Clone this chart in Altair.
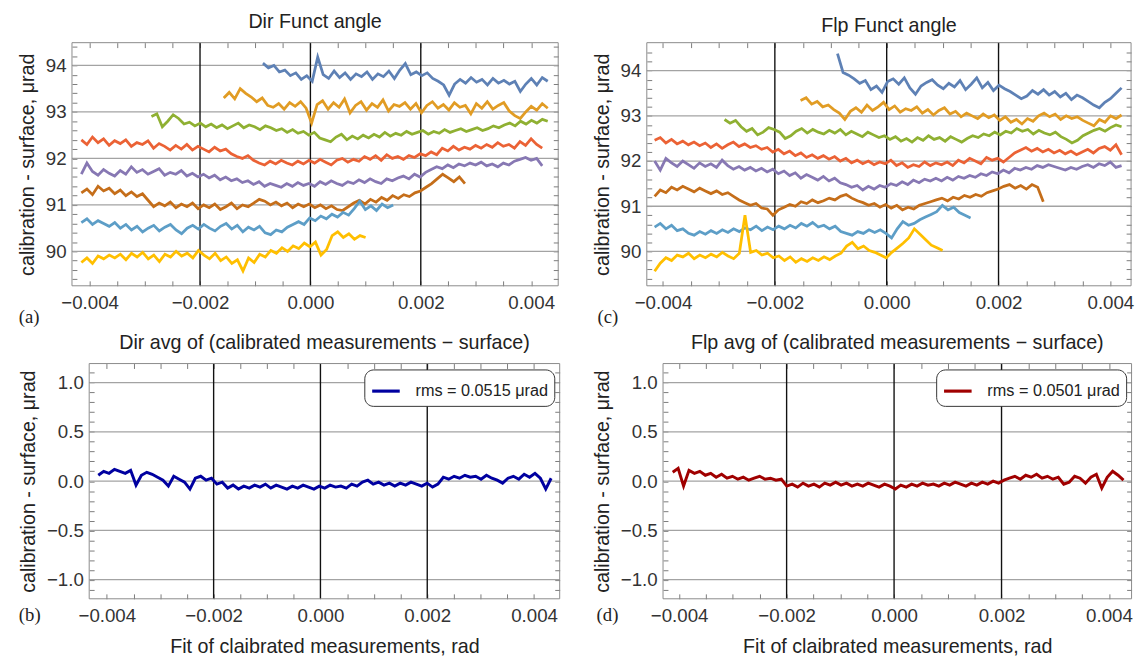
import altair as alt
import numpy as np
import pandas as pd

FONT = "Liberation Sans"
SERIES_NAMES = ["s1", "s2", "s3", "s4", "s5", "s6", "s7", "s8"]
SERIES_COLORS = ["#5E81B5", "#E19C24", "#8FB032", "#EB6235", "#8778B3", "#C56E1A", "#5D9EC7", "#FFBF00"]

# ---------------- (a) Dir Funct angle ----------------
dir_x_start = [-0.00086, -0.00157, -0.00288, -0.00415, -0.00415, -0.00415, -0.00415, -0.00415]
dir_x_end = [0.0043, 0.0043, 0.0043, 0.0042, 0.0042, 0.0028, 0.0015, 0.0010]
dir_blue = [94.05, 93.95, 94.00, 93.86, 93.90, 93.78, 93.84, 93.70, 93.78, 93.66,
            94.18, 93.80, 93.72, 93.88, 93.74, 93.84, 93.70, 93.82, 93.76, 93.86,
            93.70, 93.82, 93.76, 93.88, 93.72, 93.90, 94.04, 93.80, 93.86, 93.78,
            93.84, 93.72, 93.66, 93.58, 93.36, 93.60, 93.70, 93.62, 93.74, 93.64,
            93.70, 93.58, 93.72, 93.62, 93.68, 93.60, 93.66, 93.44, 93.60, 93.72,
            93.58, 93.74, 93.66]
dir_orange = [93.30, 93.42, 93.28, 93.50, 93.40, 93.32, 93.22, 93.30, 93.14, 93.10,
              93.18, 93.06, 93.20, 93.12, 93.22, 93.08, 92.76, 93.16, 93.24, 93.06,
              93.20, 93.10, 93.28, 92.98, 93.14, 93.22, 93.04, 93.18, 93.10, 93.26,
              93.02, 93.16, 93.12, 93.20, 93.06, 93.18, 92.98, 93.14, 93.22, 93.08,
              93.16, 93.04, 93.20, 93.10, 93.14, 92.96, 93.18, 93.08, 93.22, 93.06,
              93.14, 93.20, 93.02, 92.92, 92.86, 93.00, 93.12, 93.04, 93.18, 93.08]
dir_green = [92.90, 92.96, 92.68, 92.80, 92.94, 92.86, 92.74, 92.78, 92.70, 92.76,
             92.68, 92.74, 92.66, 92.72, 92.64, 92.70, 92.76, 92.66, 92.72, 92.68,
             92.62, 92.70, 92.66, 92.60, 92.64, 92.56, 92.62, 92.54, 92.58, 92.50,
             92.56, 92.44, 92.40, 92.36, 92.46, 92.52, 92.40, 92.48, 92.42, 92.50,
             92.44, 92.52, 92.46, 92.56, 92.48, 92.54, 92.50, 92.58, 92.52, 92.56,
             92.60, 92.52, 92.58, 92.54, 92.62, 92.56, 92.60, 92.64, 92.58, 92.62,
             92.66, 92.60, 92.64, 92.70, 92.66, 92.72, 92.76, 92.70, 92.80, 92.74,
             92.82, 92.76, 92.84, 92.80]
dir_red = [92.40, 92.30, 92.46, 92.34, 92.42, 92.28, 92.38, 92.32, 92.40, 92.26,
           92.34, 92.30, 92.38, 92.22, 92.32, 92.26, 92.18, 92.28, 92.20, 92.30,
           92.18, 92.26, 92.20, 92.14, 92.24, 92.16, 92.20, 92.10, 92.04, 92.00,
           92.06, 91.96, 91.90, 91.86, 91.94, 91.88, 91.96, 91.90, 91.86, 91.94,
           91.88, 91.96, 91.90, 91.98, 91.92, 91.86, 91.96, 92.00, 91.92, 91.98,
           91.94, 92.04, 91.98, 92.06, 91.96, 92.08, 92.00, 92.04, 91.98, 92.06,
           92.02, 92.10, 92.06, 92.14, 92.08, 92.22, 92.16, 92.26, 92.18, 92.24,
           92.20, 92.28, 92.22, 92.30, 92.24, 92.34, 92.26, 92.30, 92.22, 92.36,
           92.28, 92.42, 92.30, 92.22]
dir_purple = [91.66, 91.90, 91.72, 91.64, 91.76, 91.68, 91.62, 91.74, 91.66, 91.82,
              91.70, 91.76, 91.66, 91.72, 91.78, 91.64, 91.70, 91.66, 91.74, 91.62,
              91.68, 91.60, 91.66, 91.58, 91.64, 91.54, 91.60, 91.52, 91.56, 91.48,
              91.52, 91.44, 91.50, 91.40, 91.46, 91.42, 91.38, 91.46, 91.40, 91.48,
              91.42, 91.46, 91.40, 91.50, 91.44, 91.52, 91.46, 91.42, 91.50, 91.46,
              91.54, 91.48, 91.56, 91.50, 91.46, 91.56, 91.52, 91.58, 91.62, 91.56,
              91.66, 91.60, 91.70, 91.76, 91.82, 91.78, 91.86, 91.80, 91.88, 91.84,
              91.90, 91.86, 91.92, 91.84, 91.88, 91.82, 91.90, 91.86, 91.94, 91.98,
              92.02, 91.96, 92.00, 91.84]
dir_brown = [91.26, 91.34, 91.22, 91.40, 91.30, 91.36, 91.24, 91.32, 91.20, 91.28,
             91.18, 91.24, 91.10, 90.96, 91.04, 90.98, 91.06, 90.94, 91.02, 90.96,
             91.04, 90.92, 91.00, 90.94, 91.02, 90.90, 90.96, 91.04, 90.92, 91.00,
             90.96, 91.04, 91.12, 91.08, 91.00, 91.06, 90.98, 91.04, 90.94, 91.02,
             90.96, 91.02, 90.94, 91.00, 90.92, 90.98, 90.90, 90.88, 90.96, 91.04,
             91.10, 91.02, 91.12, 91.06, 91.16, 91.10, 91.20, 91.14, 91.22, 91.18,
             91.26, 91.30, 91.38, 91.46, 91.56, 91.66, 91.58, 91.50, 91.60, 91.46]
dir_ltblue = [90.62, 90.70, 90.58, 90.66, 90.60, 90.54, 90.62, 90.50, 90.58, 90.46,
              90.54, 90.42, 90.50, 90.56, 90.44, 90.52, 90.58, 90.46, 90.38, 90.50,
              90.56, 90.48, 90.58, 90.50, 90.44, 90.54, 90.60, 90.48, 90.56, 90.42,
              90.52, 90.46, 90.54, 90.40, 90.36, 90.46, 90.42, 90.52, 90.58, 90.64,
              90.58, 90.72, 90.66, 90.76, 90.70, 90.80, 90.74, 90.84, 90.78, 90.92,
              91.08, 90.90, 90.98, 90.88, 91.02, 90.94, 91.00]
dir_yellow = [89.76, 89.86, 89.74, 89.90, 89.84, 89.92, 89.86, 89.94, 89.82, 89.96,
              89.88, 89.98, 89.84, 89.92, 89.78, 89.94, 89.88, 90.00, 89.90, 89.96,
              89.86, 90.02, 89.92, 89.84, 89.96, 89.80, 89.88, 89.74, 89.82, 89.58,
              89.86, 89.76, 89.94, 89.88, 90.02, 89.96, 90.08, 90.00, 90.12, 90.06,
              90.18, 90.10, 90.20, 89.92, 90.04, 90.34, 90.42, 90.30, 90.38, 90.26,
              90.34, 90.30]

# ---------------- (c) Flp Funct angle ----------------
flp_x_start = [-0.00088, -0.00154, -0.0029, -0.00415, -0.00415, -0.00415, -0.00415, -0.00415]
flp_x_end = [0.0042, 0.0042, 0.0042, 0.0042, 0.0042, 0.0028, 0.0015, 0.0010]
flp_blue = [94.38, 93.96, 93.90, 93.82, 93.72, 93.78, 93.58, 93.66, 93.52, 93.76,
            93.82, 93.70, 93.84, 93.62, 93.48, 93.66, 93.74, 93.80, 93.68, 93.60,
            93.72, 93.64, 93.78, 93.58, 93.70, 93.84, 93.62, 93.74, 93.56, 93.68,
            93.60, 93.54, 93.46, 93.38, 93.44, 93.56, 93.48, 93.58, 93.46, 93.54,
            93.42, 93.50, 93.36, 93.46, 93.40, 93.32, 93.24, 93.18, 93.30, 93.38,
            93.50, 93.62]
flp_orange = [93.34, 93.40, 93.26, 93.32, 93.20, 93.24, 93.14, 93.06, 92.92, 93.10,
              93.18, 93.08, 93.24, 93.12, 93.20, 93.30, 93.14, 93.22, 93.08, 93.16,
              93.12, 93.20, 93.06, 93.14, 93.02, 93.12, 93.18, 93.04, 93.10, 92.98,
              93.06, 93.00, 92.94, 93.04, 92.96, 93.02, 92.90, 92.98, 92.86, 92.92,
              92.82, 92.94, 92.88, 93.00, 93.06, 92.98, 93.04, 92.92, 93.00, 92.94,
              92.98, 92.90, 92.84, 92.78, 92.92, 92.86, 93.00, 92.94, 93.02]
flp_green = [92.92, 92.84, 92.90, 92.76, 92.66, 92.72, 92.58, 92.64, 92.74, 92.70,
             92.64, 92.50, 92.56, 92.66, 92.72, 92.62, 92.70, 92.64, 92.60, 92.68,
             92.62, 92.70, 92.58, 92.66, 92.60, 92.54, 92.64, 92.58, 92.52, 92.56,
             92.48, 92.54, 92.44, 92.50, 92.42, 92.52, 92.46, 92.56, 92.48, 92.52,
             92.44, 92.54, 92.48, 92.42, 92.50, 92.56, 92.52, 92.60, 92.56, 92.64,
             92.58, 92.66, 92.62, 92.72, 92.66, 92.70, 92.60, 92.68, 92.62, 92.58,
             92.64, 92.54, 92.48, 92.40, 92.46, 92.56, 92.62, 92.68, 92.72, 92.66,
             92.74, 92.80, 92.76]
flp_red = [92.46, 92.52, 92.40, 92.48, 92.38, 92.44, 92.36, 92.42, 92.34, 92.40,
           92.30, 92.38, 92.28, 92.36, 92.42, 92.32, 92.38, 92.30, 92.34, 92.26,
           92.30, 92.20, 92.26, 92.16, 92.22, 92.12, 92.18, 92.08, 92.14, 92.06,
           92.12, 92.04, 92.10, 92.00, 92.06, 91.96, 92.02, 91.94, 92.00, 91.92,
           91.98, 91.94, 92.02, 91.90, 91.96, 91.86, 91.92, 91.88, 91.98, 91.90,
           91.96, 91.92, 91.98, 91.90, 92.02, 91.96, 92.06, 92.00, 91.94, 92.08,
           92.02, 92.06, 91.98, 92.08, 92.18, 92.24, 92.30, 92.22, 92.28, 92.20,
           92.26, 92.18, 92.24, 92.16, 92.22, 92.14, 92.20, 92.26, 92.18, 92.28,
           92.32, 92.24, 92.36, 92.14]
flp_purple = [92.00, 91.80, 92.06, 91.96, 91.88, 92.00, 91.92, 91.84, 91.96, 91.88,
              91.94, 91.86, 92.02, 91.90, 91.82, 91.88, 91.80, 91.86, 91.78, 91.84,
              91.76, 91.82, 91.72, 91.78, 91.68, 91.74, 91.62, 91.70, 91.64, 91.58,
              91.66, 91.56, 91.62, 91.52, 91.48, 91.42, 91.46, 91.36, 91.44, 91.38,
              91.46, 91.42, 91.50, 91.46, 91.54, 91.48, 91.58, 91.52, 91.60, 91.56,
              91.62, 91.56, 91.64, 91.58, 91.66, 91.62, 91.68, 91.64, 91.72, 91.68,
              91.76, 91.72, 91.80, 91.74, 91.84, 91.80, 91.86, 91.82, 91.90, 91.86,
              91.92, 91.88, 91.84, 91.80, 91.86, 91.82, 91.88, 91.92, 91.86, 91.94,
              91.90, 91.98, 91.86, 91.90]
flp_brown = [91.22, 91.36, 91.30, 91.42, 91.36, 91.44, 91.38, 91.32, 91.40, 91.34,
             91.28, 91.34, 91.26, 91.30, 91.22, 91.14, 91.08, 91.02, 91.06, 90.96,
             90.94, 90.80, 90.92, 90.98, 91.04, 91.00, 91.10, 91.06, 91.14, 91.08,
             91.12, 91.18, 91.14, 91.22, 91.26, 91.18, 91.12, 91.08, 91.02, 91.06,
             90.98, 91.04, 90.96, 91.02, 90.92, 90.98, 90.94, 91.02, 91.06, 91.10,
             91.14, 91.18, 91.12, 91.20, 91.16, 91.24, 91.20, 91.26, 91.22, 91.30,
             91.34, 91.38, 91.44, 91.48, 91.40, 91.46, 91.38, 91.48, 91.42, 91.10]
flp_ltblue = [90.54, 90.62, 90.50, 90.58, 90.46, 90.50, 90.40, 90.36, 90.44, 90.38,
              90.46, 90.40, 90.48, 90.42, 90.50, 90.44, 90.52, 90.48, 90.56, 90.46,
              90.54, 90.48, 90.56, 90.50, 90.58, 90.52, 90.62, 90.56, 90.64, 90.54,
              90.58, 90.50, 90.56, 90.44, 90.40, 90.36, 90.44, 90.40, 90.48, 90.42,
              90.48, 90.40, 90.30, 90.50, 90.66, 90.58, 90.62, 90.70, 90.76, 90.82,
              90.88, 91.02, 90.92, 90.98, 90.86, 90.80, 90.74]
flp_yellow = [89.56, 89.74, 89.86, 89.80, 89.92, 89.88, 89.96, 89.84, 89.92, 89.86,
              89.94, 89.88, 89.98, 89.90, 89.84, 89.96, 90.80, 89.98, 90.02, 89.92,
              89.96, 89.86, 89.90, 89.80, 89.88, 89.76, 89.84, 89.78, 89.86, 89.80,
              89.88, 89.82, 89.90, 89.96, 90.12, 90.20, 90.06, 90.12, 90.02, 89.98,
              89.92, 89.86, 89.98, 90.08, 90.18, 90.30, 90.50, 90.38, 90.26, 90.14,
              90.08, 90.02]

# ---------------- (b) Dir avg, (d) Flp avg ----------------
dir_avg_x = [-0.00416, 0.00432]
dir_avg = [0.06, 0.10, 0.08, 0.12, 0.10, 0.08, 0.11, -0.04, 0.06, 0.09,
           0.07, 0.04, 0.01, -0.05, 0.05, 0.02, -0.01, -0.08, 0.03, 0.05,
           0.01, 0.03, -0.03, -0.01, -0.07, -0.04, -0.08, -0.05, -0.07, -0.04,
           -0.06, -0.03, -0.07, -0.04, -0.06, -0.08, -0.05, -0.07, -0.04, -0.06,
           -0.08, -0.05, -0.07, -0.04, -0.06, -0.05, -0.07, -0.03, -0.05, -0.01,
           0.01, -0.03, -0.01, -0.04, -0.02, -0.05, -0.02, -0.04, -0.01, -0.03,
           -0.05, -0.02, -0.06, -0.03, 0.04, 0.02, 0.05, 0.03, 0.06, 0.04,
           0.05, 0.02, 0.06, 0.03, 0.01, -0.02, 0.03, 0.05, 0.02, 0.07,
           0.04, 0.08, 0.03, -0.08, 0.03]
flp_avg_x = [-0.00412, 0.00427]
flp_avg = [0.09, 0.13, -0.05, 0.11, 0.08, 0.10, 0.06, 0.08, 0.04, 0.07,
           0.03, 0.05, 0.02, 0.04, 0.01, 0.03, 0.05, 0.02, 0.03, 0.01,
           0.02, -0.05, -0.03, -0.06, -0.02, -0.05, -0.03, -0.06, -0.02, -0.04,
           -0.01, -0.04, -0.02, -0.05, -0.03, -0.05, -0.02, -0.04, -0.06, -0.03,
           -0.05, -0.08, -0.04, -0.06, -0.03, -0.05, -0.02, -0.04, -0.03, -0.05,
           -0.02, -0.04, -0.01, -0.03, -0.05, -0.02, -0.04, -0.01, -0.03, 0.00,
           -0.02, 0.01, 0.03, 0.05, 0.02, 0.06, 0.04, 0.07, 0.03, 0.05,
           0.02, 0.04, -0.03, -0.01, 0.05, 0.03, -0.02, 0.04, 0.07, -0.07,
           0.04, 0.10, 0.06, 0.01]
dir_avg_label = "rms = 0.0515 μrad"
flp_avg_label = "rms = 0.0501 μrad"

# ---------------- ticks / grid ----------------
x_ticks = [-0.004, -0.0035, -0.003, -0.0025, -0.002, -0.0015, -0.001, -0.0005, 0.0,
           0.0005, 0.001, 0.0015, 0.002, 0.0025, 0.003, 0.0035, 0.004]
x_grid = [-0.002, 0.0, 0.002]
y_ticks_top = [89.4, 89.6, 89.8, 90.0, 90.2, 90.4, 90.6, 90.8, 91.0, 91.2, 91.4, 91.6, 91.8,
               92.0, 92.2, 92.4, 92.6, 92.8, 93.0, 93.2, 93.4, 93.6, 93.8, 94.0, 94.2, 94.4]
y_grid_top = [90, 91, 92, 93, 94]
y_ticks_bot = [-1.1, -1.0, -0.9, -0.8, -0.7, -0.6, -0.5, -0.4, -0.3, -0.2, -0.1, 0.0,
               0.1, 0.2, 0.3, 0.4, 0.5, 0.6, 0.7, 0.8, 0.9, 1.0, 1.1]
y_grid_bot = [-1.0, -0.5, 0.0, 0.5, 1.0]

XLAB = "abs(datum.value * 500 - round(datum.value * 500)) < 0.01 ? format(datum.value, '.3f') : ''"
YLAB_TOP = "abs(datum.value - round(datum.value)) < 0.01 ? format(datum.value, '.0f') : ''"
YLAB_BOT = "abs(datum.value * 2 - round(datum.value * 2)) < 0.01 ? format(datum.value, '.1f') : ''"
YTITLE = "calibration - surface, μrad"
XTITLE = "Fit of claibrated measurements, rad"

TICK_FS = 19
TITLE_FS = 20
FRAME = "#8a8a8a"


def series_frame(starts, ends, arrays, names):
    rows = []
    for s, e, vals, n in zip(starts, ends, arrays, names):
        xs = np.linspace(s, e, len(vals))
        for xv, yv in zip(xs, vals):
            rows.append({"x": float(xv), "y": yv, "series": n})
    return pd.DataFrame(rows)


def panel(df, cdomain, crange, legend, frame_x, ydom, w, h, title, yticks, ygrid,
          ylab, letter, ldx, ldy, xtitle, sw, inset=0.0, title_offset=6):
    # inset: blank strip (px) kept left of the framed plot, so that all panels
    # of a column share one origin while their frames start where they should
    px_per_unit = w / (frame_x[1] - frame_x[0])
    view_x = [frame_x[0] - inset / px_per_unit, frame_x[1]]
    vw = w + inset
    xs = alt.Scale(domain=view_x, nice=False, zero=False)
    ys = alt.Scale(domain=ydom, nice=False, zero=False)
    tick_common = dict(tickSize=5, domain=False, grid=False,
                       tickColor="#7a7a7a", tickWidth=1)
    gdf = pd.DataFrame({"g": ygrid, "x0": [frame_x[0]] * len(ygrid),
                        "x1": [frame_x[1]] * len(ygrid)})
    hgrid = alt.Chart(gdf).mark_rule(color="#a3a3a3", strokeWidth=1.3).encode(
        x=alt.X("x0:Q", scale=xs, axis=None), x2="x1:Q",
        y=alt.Y("g:Q", scale=ys,
                axis=alt.Axis(orient="right", values=yticks, labels=False,
                              title=None, offset=-5, **tick_common)))
    vgrid = alt.Chart(pd.DataFrame({"g": x_grid})).mark_rule(
        color="#111111", strokeWidth=1.4).encode(
        x=alt.X("g:Q", scale=xs,
                axis=alt.Axis(orient="top", values=x_ticks, labels=False,
                              title=None, offset=-5, **tick_common)))
    xaxis_kw = dict(orient="bottom", values=x_ticks, labelExpr=XLAB,
                    labelFont=FONT, labelFontSize=TICK_FS, labelColor="#333333",
                    labelPadding=8, labelOverlap=False, labelFlush=False,
                    title=xtitle, titleFont=FONT, titleFontSize=TITLE_FS,
                    titleFontWeight="normal", titleColor="#222222",
                    titlePadding=12, offset=-5, **tick_common)
    if xtitle is not None:
        xaxis_kw["titleX"] = inset + w / 2
        xaxis_kw["titleAlign"] = "center"
    xaxis = alt.Axis(**xaxis_kw)
    yaxis = alt.Axis(orient="left", values=yticks, labelExpr=ylab,
                     labelFont=FONT, labelFontSize=TICK_FS, labelColor="#333333",
                     labelPadding=6, labelOverlap=False, labelFlush=False,
                     title=YTITLE, titleFont=FONT, titleFontSize=TITLE_FS,
                     titleFontWeight="normal", titleColor="#222222",
                     titlePadding=8, offset=-(5 + inset), **tick_common)
    lines = alt.Chart(df).mark_line(strokeWidth=sw, clip=True).encode(
        x=alt.X("x:Q", scale=xs, axis=xaxis),
        y=alt.Y("y:Q", scale=ys, axis=yaxis),
        color=alt.Color("series:N", scale=alt.Scale(domain=cdomain, range=crange),
                        legend=legend),
    )
    fdf = pd.DataFrame({"x0": [frame_x[0]], "x1": [frame_x[1]],
                        "y0": [ydom[0]], "y1": [ydom[1]]})
    frame = alt.Chart(fdf).mark_rect(filled=False, stroke=FRAME, strokeWidth=1).encode(
        x=alt.X("x0:Q", scale=xs, axis=None), x2="x1:Q",
        y=alt.Y("y0:Q", scale=ys, axis=None), y2="y1:Q")
    lab = alt.Chart(pd.DataFrame({"t": [letter]})).mark_text(
        align="left", baseline="middle", font="Liberation Serif", fontSize=19,
        color="#222222").encode(text="t:N", x=alt.value(ldx), y=alt.value(ldy))
    return alt.layer(hgrid, vgrid, lines, frame, lab).properties(
        width=vw, height=h,
        view=alt.ViewBackground(stroke="transparent"),
        title=alt.TitleParams(title, font=FONT, fontSize=TITLE_FS, fontWeight="normal",
                              color="#222222", offset=title_offset, anchor="middle",
                              frame="group", dx=inset / 2))


def avg_legend():
    return alt.Legend(orient="top-right", offset=6, title=None, fillColor="white",
                      strokeColor="#333333", cornerRadius=9, padding=6,
                      symbolType="stroke", symbolSize=784, symbolStrokeWidth=3.2,
                      labelFont=FONT, labelFontSize=16.5, labelColor="#222222",
                      labelOffset=14)


df_dir = series_frame(dir_x_start, dir_x_end,
                      [dir_blue, dir_orange, dir_green, dir_red, dir_purple,
                       dir_brown, dir_ltblue, dir_yellow], SERIES_NAMES)
df_flp = series_frame(flp_x_start, flp_x_end,
                      [flp_blue, flp_orange, flp_green, flp_red, flp_purple,
                       flp_brown, flp_ltblue, flp_yellow], SERIES_NAMES)
df_dir_avg = series_frame([dir_avg_x[0]], [dir_avg_x[1]], [dir_avg], [dir_avg_label])
df_flp_avg = series_frame([flp_avg_x[0]], [flp_avg_x[1]], [flp_avg], [flp_avg_label])

p_a = panel(df_dir, SERIES_NAMES, SERIES_COLORS, None, [-0.00432, 0.00449],
            [89.26, 94.49], 494, 247, "Dir Funct angle", y_ticks_top, y_grid_top,
            YLAB_TOP, "(a)", -54, 279, None, 2.8)
p_c = panel(df_flp, SERIES_NAMES, SERIES_COLORS, None, [-0.00429, 0.00437],
            [89.24, 94.62], 492, 247, "Flp Funct angle", y_ticks_top, y_grid_top,
            YLAB_TOP, "(c)", -50, 279, None, 2.8)
p_b = panel(df_dir_avg, [dir_avg_label], ["#0000A0"], avg_legend(),
            [-0.00433, 0.00448], [-1.194, 1.194], 478, 239,
            "Dir avg of (calibrated measurements − surface)", y_ticks_bot, y_grid_bot,
            YLAB_BOT, "(b)", -54, 256, XTITLE, 3.0, inset=17.5, title_offset=10)
p_d = panel(df_flp_avg, [flp_avg_label], ["#A00000"], avg_legend(),
            [-0.0043, 0.00442], [-1.194, 1.194], 476, 239,
            "Flp avg of (calibrated measurements − surface)", y_ticks_bot, y_grid_bot,
            YLAB_BOT, "(d)", -50, 256, XTITLE, 3.0, inset=17.5, title_offset=10)

chart = alt.concat(p_a, p_c, p_b, p_d, columns=2, align="none",
                   spacing={"row": 4, "column": 31}).resolve_scale(
    color="independent").properties(
    padding={"left": 9, "top": -2, "right": 0, "bottom": 0}
)

chart.save("out.html", embed_options={"renderer": "svg", "actions": False})
